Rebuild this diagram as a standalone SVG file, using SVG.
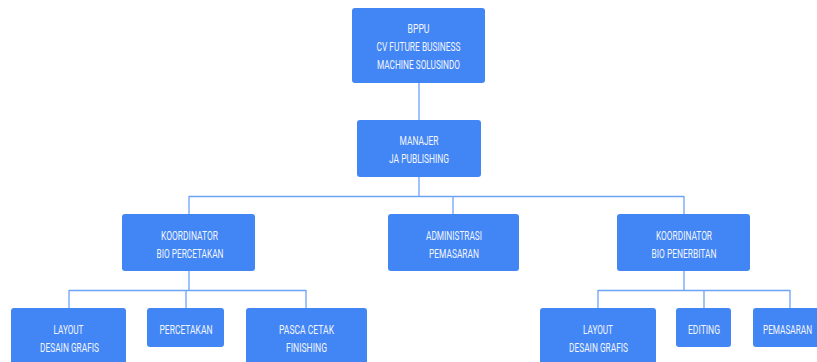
<svg xmlns="http://www.w3.org/2000/svg" width="817" height="362" viewBox="0 0 817 362">
<style>
.box{fill:#4285f4;}
.t{font-family:Roboto,"Liberation Sans",sans-serif;font-size:13.5px;fill:#f2f6fe;text-anchor:middle;}
.c{stroke:#6da3f7;stroke-width:1.3;fill:none;}
</style>
<rect width="817" height="362" fill="#ffffff"/>
<g id="connectors">
<path class="c" d="M419 83V120M419 177V196M189 196.5H684M189 196V214M453 196V214M684 196V214"/>
<path class="c" d="M189 271V290M69 290.5H306M69 290V308M186 290V308M306 290V308"/>
<path class="c" d="M684 271V290M598 290.5H790M598 290V308M704 290V308M790 290V308"/>
</g>
<g id="bppu">
<rect class="box" x="352" y="8" width="133" height="75" rx="3"/>
<text class="t" x="418.5" y="32.5" textLength="22" lengthAdjust="spacingAndGlyphs">BPPU</text>
<text class="t" x="418.5" y="50.5" textLength="84" lengthAdjust="spacingAndGlyphs">CV FUTURE BUSINESS</text>
<text class="t" x="418.5" y="68.5" textLength="83" lengthAdjust="spacingAndGlyphs">MACHINE SOLUSINDO</text>
</g>
<g id="manajer">
<rect class="box" x="357" y="120" width="124" height="57" rx="3"/>
<text class="t" x="419" y="145" textLength="39" lengthAdjust="spacingAndGlyphs">MANAJER</text>
<text class="t" x="419" y="163" textLength="60" lengthAdjust="spacingAndGlyphs">JA PUBLISHING</text>
</g>
<g id="koord-percetakan">
<rect class="box" x="122" y="214" width="133" height="57" rx="3"/>
<text class="t" x="189.5" y="239.5" textLength="57" lengthAdjust="spacingAndGlyphs">KOORDINATOR</text>
<text class="t" x="190" y="257.5" textLength="67" lengthAdjust="spacingAndGlyphs">BIO PERCETAKAN</text>
</g>
<g id="administrasi">
<rect class="box" x="388" y="214" width="131" height="57" rx="3"/>
<text class="t" x="454" y="239.5" textLength="56" lengthAdjust="spacingAndGlyphs">ADMINISTRASI</text>
<text class="t" x="454" y="257.5" textLength="50" lengthAdjust="spacingAndGlyphs">PEMASARAN</text>
</g>
<g id="koord-penerbitan">
<rect class="box" x="617" y="214" width="133" height="57" rx="3"/>
<text class="t" x="684" y="239.5" textLength="56" lengthAdjust="spacingAndGlyphs">KOORDINATOR</text>
<text class="t" x="684" y="257.5" textLength="65" lengthAdjust="spacingAndGlyphs">BIO PENERBITAN</text>
</g>
<g id="layout-1">
<rect class="box" x="11" y="308" width="115" height="60" rx="3"/>
<text class="t" x="68.5" y="333.5" textLength="30" lengthAdjust="spacingAndGlyphs">LAYOUT</text>
<text class="t" x="69.5" y="351.5" textLength="59" lengthAdjust="spacingAndGlyphs">DESAIN GRAFIS</text>
</g>
<g id="percetakan">
<rect class="box" x="147" y="308" width="77" height="39" rx="3"/>
<text class="t" x="186" y="333.5" textLength="53" lengthAdjust="spacingAndGlyphs">PERCETAKAN</text>
</g>
<g id="pasca-cetak">
<rect class="box" x="246" y="308" width="121" height="60" rx="3"/>
<text class="t" x="306.5" y="333.5" textLength="55" lengthAdjust="spacingAndGlyphs">PASCA CETAK</text>
<text class="t" x="306.5" y="351.5" textLength="41" lengthAdjust="spacingAndGlyphs">FINISHING</text>
</g>
<g id="layout-2">
<rect class="box" x="540" y="308" width="116" height="60" rx="3"/>
<text class="t" x="598" y="333.5" textLength="30" lengthAdjust="spacingAndGlyphs">LAYOUT</text>
<text class="t" x="598.5" y="351.5" textLength="59" lengthAdjust="spacingAndGlyphs">DESAIN GRAFIS</text>
</g>
<g id="editing">
<rect class="box" x="676" y="308" width="55" height="39" rx="3"/>
<text class="t" x="704" y="333.5" textLength="32" lengthAdjust="spacingAndGlyphs">EDITING</text>
</g>
<g id="pemasaran">
<rect class="box" x="753" y="308" width="74" height="39" rx="3"/>
<text class="t" x="787.5" y="333.5" textLength="49" lengthAdjust="spacingAndGlyphs">PEMASARAN</text>
</g>
</svg>
